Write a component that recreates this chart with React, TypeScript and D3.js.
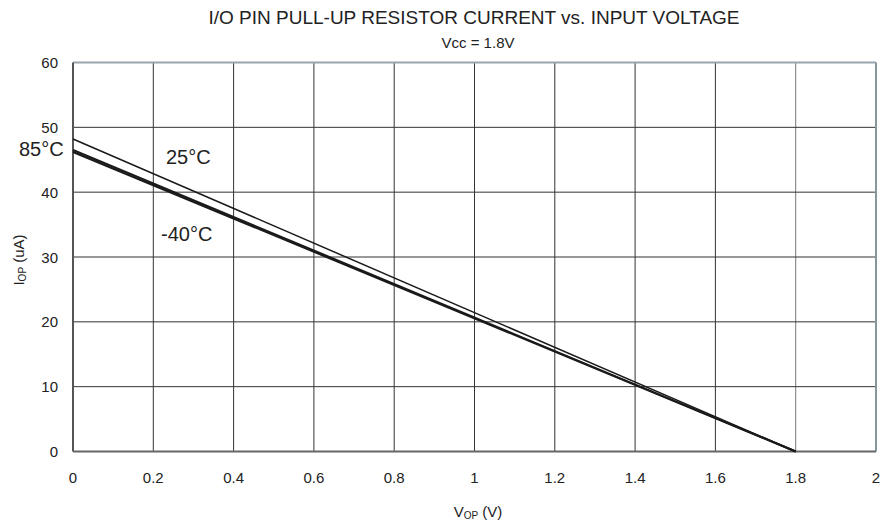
import React from "react";
import * as d3 from "d3";

const xTicks = [0, 0.2, 0.4, 0.6, 0.8, 1, 1.2, 1.4, 1.6, 1.8, 2];
const yTicks = [0, 10, 20, 30, 40, 50, 60];
const xTickLabels = ["0", "0.2", "0.4", "0.6", "0.8", "1", "1.2", "1.4", "1.6", "1.8", "2"];

const voltage = [0, 1.8];
const series25 = [48.2, 0];
const series85 = [46.5, 0];
const seriesM40 = [46.2, 0];

const seriesList = [
  { name: "25°C", values: series25, width: 1.5 },
  { name: "85°C", values: series85, width: 2 },
  { name: "-40°C", values: seriesM40, width: 2 },
];

const W = 891;
const H = 527;
const left = 73;
const right = 876;
const top = 62.5;
const bottom = 451.5;
const font = "'Liberation Sans', Arial, sans-serif";

export default function App() {
  const x = d3.scaleLinear().domain([0, 2]).range([left, right]);
  const y = d3.scaleLinear().domain([0, 60]).range([bottom, top]);
  const line = d3
    .line<number>()
    .x((_, i) => x(voltage[i]))
    .y((d) => y(d));

  return (
    <svg
      width={W}
      height={H}
      style={{ position: "absolute", left: 0, top: 0, background: "#fff" }}
      fontFamily={font}
    >
      {xTicks.slice(1, -1).map((t) => (
        <line key={"gx" + t} x1={x(t)} x2={x(t)} y1={top} y2={bottom} stroke={t === 1.8 ? "#777" : "#333"} strokeWidth={1} />
      ))}
      {yTicks.slice(1, -1).map((t) => (
        <line key={"gy" + t} x1={left} x2={right} y1={y(t)} y2={y(t)} stroke="#333" strokeWidth={1} />
      ))}
      <line x1={left} x2={right} y1={top} y2={top} stroke="#9aa6ae" strokeWidth={2} />
      <line x1={right} x2={right} y1={top} y2={bottom} stroke="#8a969e" strokeWidth={2} />
      <line x1={left} x2={left} y1={top} y2={bottom} stroke="#555" strokeWidth={2} />
      <line x1={left} x2={right} y1={bottom} y2={bottom} stroke="#666" strokeWidth={2} />

      {seriesList.map((s) => (
        <path key={s.name} d={line(s.values) || ""} fill="none" stroke="#1a1a1a" strokeWidth={s.width} />
      ))}

      {xTicks.map((t, i) => (
        <text key={"tx" + t} x={x(t)} y={483} textAnchor="middle" fontSize={15} fill="#222">
          {xTickLabels[i]}
        </text>
      ))}
      {yTicks.map((t) => (
        <text key={"ty" + t} x={58} y={y(t) + 5.5} textAnchor="end" fontSize={15} fill="#222">
          {t}
        </text>
      ))}

      <text x={19} y={156} fontSize={20} fill="#222">85°C</text>
      <text x={166} y={164} fontSize={20} fill="#222">25°C</text>
      <text x={161} y={241} fontSize={20} fill="#222">-40°C</text>

      <text x={474} y={24} textAnchor="middle" fontSize={19} fill="#222">
        I/O PIN PULL-UP RESISTOR CURRENT vs. INPUT VOLTAGE
      </text>
      <text x={478} y={48} textAnchor="middle" fontSize={15} fill="#222">
        Vcc = 1.8V
      </text>
      <text x={478} y={517} textAnchor="middle" fontSize={15} fill="#222">
        V<tspan fontSize={10} dy={2}>OP</tspan>
        <tspan dy={-2}> (V)</tspan>
      </text>
      <text transform="translate(24,260) rotate(-90)" textAnchor="middle" fontSize={15} fill="#222">
        I<tspan fontSize={10} dy={2}>OP</tspan>
        <tspan dy={-2}> (uA)</tspan>
      </text>
    </svg>
  );
}
